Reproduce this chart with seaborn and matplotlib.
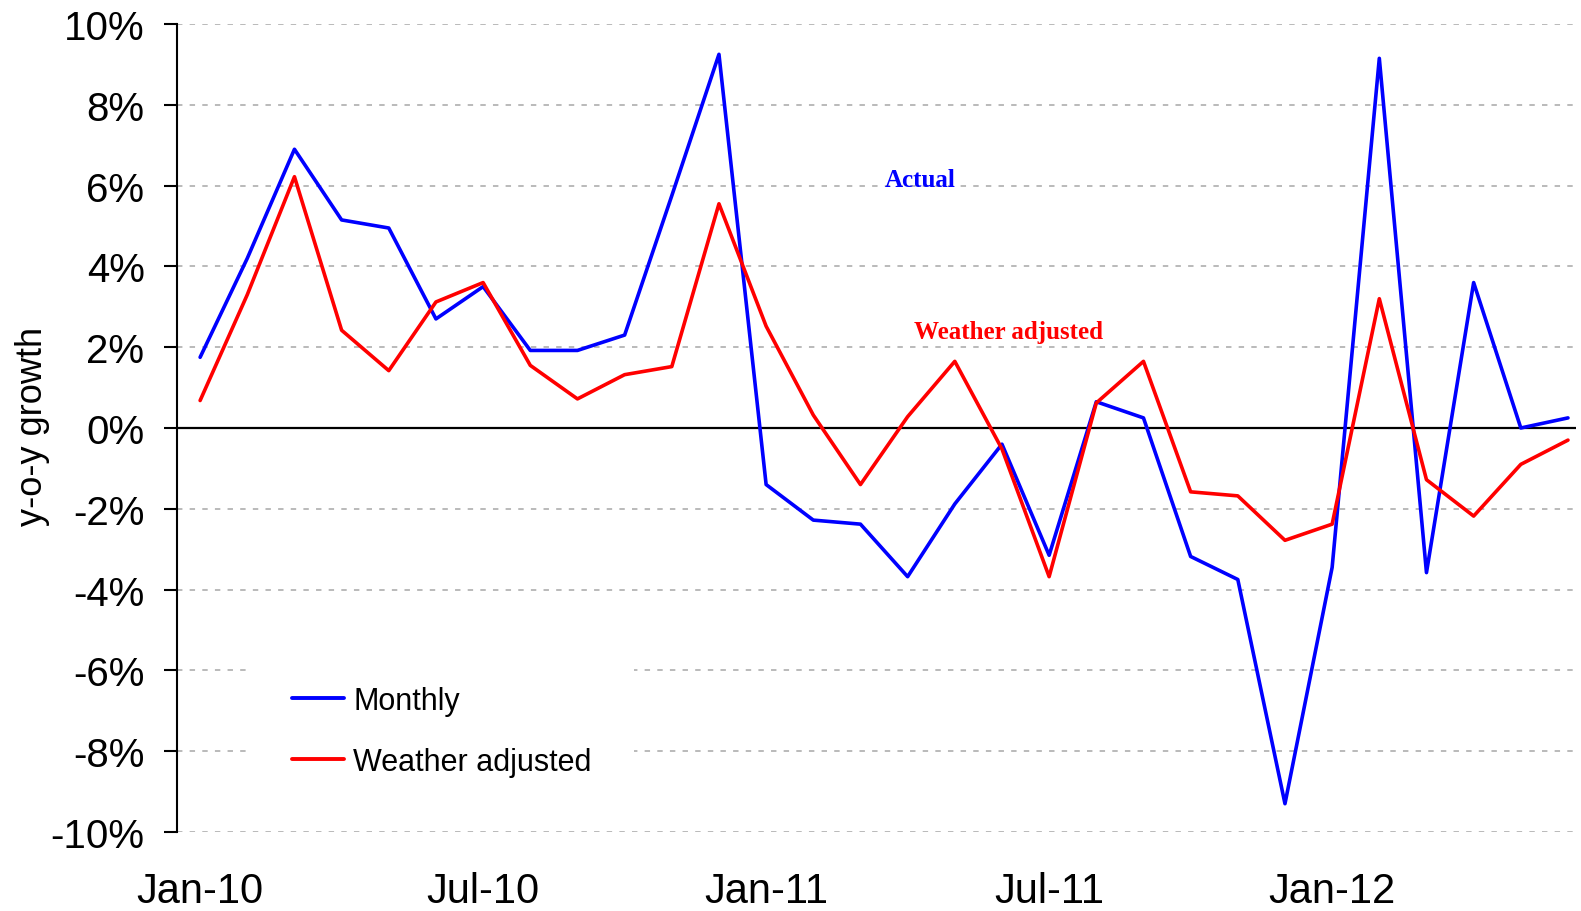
import numpy as np
import pandas as pd
import matplotlib
matplotlib.use("Agg")
import matplotlib.pyplot as plt
import seaborn as sns

# ---- data (y-o-y growth, %) ----
months = ["Jan-10", "Feb-10", "Mar-10", "Apr-10", "May-10", "Jun-10",
          "Jul-10", "Aug-10", "Sep-10", "Oct-10", "Nov-10", "Dec-10",
          "Jan-11", "Feb-11", "Mar-11", "Apr-11", "May-11", "Jun-11",
          "Jul-11", "Aug-11", "Sep-11", "Oct-11", "Nov-11", "Dec-11",
          "Jan-12", "Feb-12", "Mar-12", "Apr-12", "May-12", "Jun-12"]
monthly = [1.75, 4.2, 6.9, 5.15, 4.95, 2.7, 3.5, 1.92, 1.92, 2.3, 5.75, 9.25,
           -1.4, -2.28, -2.38, -3.68, -1.88, -0.4, -3.15, 0.65, 0.25, -3.18,
           -3.75, -9.3, -3.45, 9.15, -3.58, 3.6, 0.0, 0.25]
weather_adj = [0.68, 3.3, 6.22, 2.42, 1.42, 3.12, 3.6, 1.55, 0.72, 1.32, 1.52,
               5.55, 2.52, 0.32, -1.4, 0.28, 1.65, -0.52, -3.68, 0.62, 1.65,
               -1.58, -1.68, -2.78, -2.38, 3.2, -1.28, -2.18, -0.9, -0.3]
series_names = ["Monthly", "Weather adjusted"]
xtick_labels = ["Jan-10", "Jul-10", "Jan-11", "Jul-11", "Jan-12"]
yticks = [-10, -8, -6, -4, -2, 0, 2, 4, 6, 8, 10]

pos = list(range(len(months)))
df = pd.DataFrame({
    "pos": pos * 2,
    "month": months * 2,
    "value": monthly + weather_adj,
    "series": [series_names[0]] * len(months) + [series_names[1]] * len(months),
})

sns.set_style("white")
plt.rcParams["font.family"] = ["Liberation Sans", "DejaVu Sans"]
plt.rcParams["text.color"] = "black"
plt.rcParams["xtick.color"] = "black"
plt.rcParams["ytick.color"] = "black"

W, H = 1581, 912
fig = plt.figure(figsize=(W / 100, H / 100), dpi=100)
ax = fig.add_axes([177 / W, 1 - 833 / H, (1576 - 177) / W, (833 - 25) / H])

sns.lineplot(data=df, x="pos", y="value", hue="series",
             palette={"Monthly": "#0000ff", "Weather adjusted": "#ff0000"},
             linewidth=2.6, ax=ax, zorder=3)

ax.set_xlim(-0.49, 29.17)
ax.set_ylim(-10, 10)
ax.set_yticks(yticks)
ax.set_yticklabels([f"{v}%" for v in yticks])
ax.set_xticks([months.index(m) for m in xtick_labels])
ax.set_xticklabels(xtick_labels)
ax.set_xlabel("")
ax.set_ylabel("")

ax.tick_params(axis="x", length=0, pad=28, labelsize=30, bottom=False,
               labelcolor="black")
ax.tick_params(axis="y", direction="out", length=9.4, width=1.5, pad=14,
               labelsize=29, left=True, colors="black")
for s in ["top", "right", "bottom"]:
    ax.spines[s].set_visible(False)
ax.spines["left"].set_color("black")
ax.spines["left"].set_linewidth(1.5)

ax.grid(False)
ax.grid(axis="y", linestyle=(0, (3, 4)), color="#b4b4b4", linewidth=1.3)
ax.set_axisbelow(True)
ax.axhline(0, color="black", linewidth=1.6, zorder=2)

handles, labels = ax.get_legend_handles_labels()
leg = ax.legend(handles, labels, loc="center",
                bbox_to_anchor=(0.2795, 0.197), bbox_transform=fig.transFigure,
                fontsize=22, frameon=True, facecolor="white", edgecolor="none",
                framealpha=1, borderpad=1.4, handlelength=1.7,
                handletextpad=0.3, labelspacing=1.0, fancybox=False,
                labelcolor="black")
for lh in leg.get_lines():
    lh.set_linewidth(2.8)

ax.text(15.26, 6.14, "Actual", color="#0000ff", fontsize=18,
        family="Liberation Serif", weight="bold", ha="center", va="center")
ax.text(17.13, 2.38, "Weather adjusted", color="#ff0000", fontsize=18,
        family="Liberation Serif", weight="bold", ha="center", va="center")

fig.text(33 / W, 1 - 426 / H, "y-o-y growth", rotation=90, ha="center",
         va="center", fontsize=26, color="black")

fig.savefig("out.png", dpi=100)
